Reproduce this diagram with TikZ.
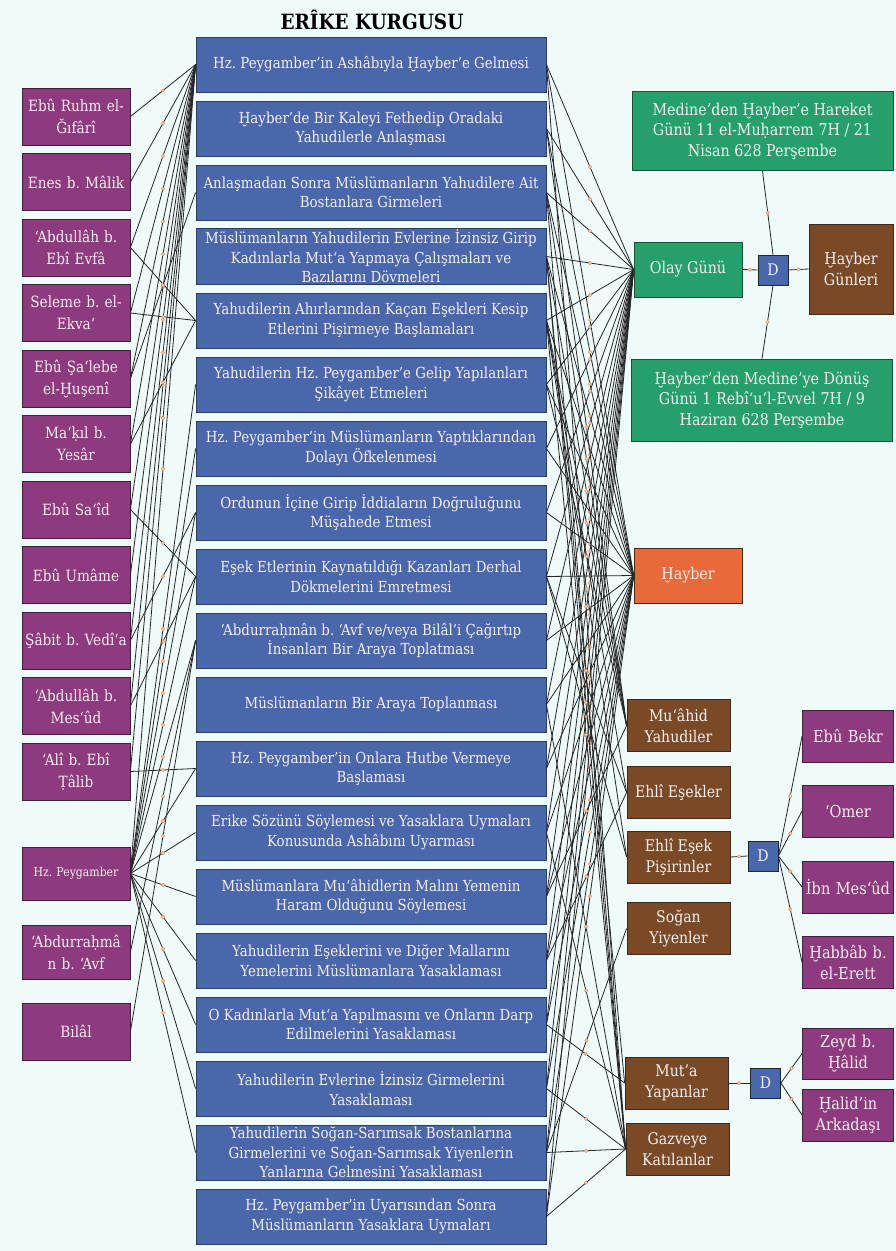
\documentclass[tikz,border=0pt]{standalone}
\usepackage{fontspec}
\setmainfont{DejaVu Serif}[FakeStretch=0.88]
\usetikzlibrary{positioning}
\definecolor{zemin}{HTML}{EFFAFB}
\definecolor{mavi}{HTML}{4B67AC}
\definecolor{mavicizgi}{HTML}{2E3D62}
\definecolor{mor}{HTML}{8E3A7F}
\definecolor{morcizgi}{HTML}{3E2338}
\definecolor{yesil}{HTML}{25A06B}
\definecolor{yesilcizgi}{HTML}{1E4E39}
\definecolor{kahve}{HTML}{7A4A26}
\definecolor{kahvecizgi}{HTML}{3A2A20}
\definecolor{turuncu}{HTML}{E8693A}
\definecolor{yazi}{HTML}{F5EEF0}
\definecolor{nokta}{HTML}{E0925C}

\tikzset{
  kutu/.style={line width=0.8pt, align=center, text=yazi, inner sep=1pt},
  eventbox/.style={kutu, draw=mavicizgi, fill=mavi, minimum width=350pt, minimum height=55pt, font=\fontsize{15.2}{19.5}\selectfont},
  personbox/.style={kutu, draw=morcizgi, fill=mor, minimum width=108pt, minimum height=57pt, text width=106pt, font=\fontsize{15.5}{22}\selectfont},
  greenbox/.style={kutu, draw=yesilcizgi, fill=yesil, font=\fontsize{16.2}{20.5}\selectfont},
  brownbox/.style={kutu, draw=kahvecizgi, fill=kahve, minimum width=103pt, minimum height=52pt, font=\fontsize{16}{21}\selectfont},
  sagkisi/.style={personbox, minimum width=90pt, text width=89pt, minimum height=52pt, font=\fontsize{16.5}{21}\selectfont},
  dbox/.style={kutu, draw=black!85, fill=mavi, minimum width=30pt, minimum height=30pt, font=\fontsize{16}{17}\selectfont},
  link/.style={draw=black!85, line width=0.8pt},
  mk/.style={circle, draw=nokta, fill=nokta!40, line width=0.5pt, inner sep=0pt, minimum size=3.4pt}
}

\begin{document}
\frenchspacing
\begin{tikzpicture}[x=1pt, y=-1pt]
\fill[zemin] (0,0) rectangle (896,1251);
\useasboundingbox (0,0) rectangle (896,1251);

\node[font=\fontsize{21}{24}\selectfont\bfseries] (baslik) at (372,20) {ERÎKE KURGUSU};

% olaylar
\foreach \t [count=\i] in {
  {Hz. Peygamber'in Ashâbıyla Ḫayber'e Gelmesi},
  {Ḫayber'de Bir Kaleyi Fethedip Oradaki\\Yahudilerle Anlaşması},
  {Anlaşmadan Sonra Müslümanların Yahudilere Ait\\Bostanlara Girmeleri},
  {Müslümanların Yahudilerin Evlerine İzinsiz Girip\\Kadınlarla Mut‘a Yapmaya Çalışmaları ve\\Bazılarını Dövmeleri},
  {Yahudilerin Ahırlarından Kaçan Eşekleri Kesip\\Etlerini Pişirmeye Başlamaları},
  {Yahudilerin Hz. Peygamber'e Gelip Yapılanları\\Şikâyet Etmeleri},
  {Hz. Peygamber'in Müslümanların Yaptıklarından\\Dolayı Öfkelenmesi},
  {Ordunun İçine Girip İddiaların Doğruluğunu\\Müşahede Etmesi},
  {Eşek Etlerinin Kaynatıldığı Kazanları Derhal\\Dökmelerini Emretmesi},
  {‘Abdurraḥmân b. ‘Avf ve/veya Bilâl'i Çağırtıp\\İnsanları Bir Araya Toplatması},
  {Müslümanların Bir Araya Toplanması},
  {Hz. Peygamber'in Onlara Hutbe Vermeye\\Başlaması},
  {Erike Sözünü Söylemesi ve Yasaklara Uymaları\\Konusunda Ashâbını Uyarması},
  {Müslümanlara Mu‘âhidlerin Malını Yemenin\\Haram Olduğunu Söylemesi},
  {Yahudilerin Eşeklerini ve Diğer Mallarını\\Yemelerini Müslümanlara Yasaklaması},
  {O Kadınlarla Mut‘a Yapılmasını ve Onların Darp\\Edilmelerini Yasaklaması},
  {Yahudilerin Evlerine İzinsiz Girmelerini\\Yasaklaması},
  {Yahudilerin Soğan-Sarımsak Bostanlarına\\Girmelerini ve Soğan-Sarımsak Yiyenlerin\\Yanlarına Gelmesini Yasaklaması},
  {Hz. Peygamber'in Uyarısından Sonra\\Müslümanların Yasaklara Uymaları}}
  \node[eventbox] (e\i) at (371,{64.5+64*(\i-1)}) {\t};

% raviler
\foreach \t [count=\i] in {
  {Ebû Ruhm el-\\Ğıfârî}, {Enes b. Mâlik}, {‘Abdullâh b.\\Ebî Evfâ}, {Seleme b. el-\\Ekva‘},
  {Ebû Şa‘lebe\\el-Ḫuşenî}, {Ma‘ḳıl b.\\Yesâr}, {Ebû Sa‘îd}, {Ebû Umâme},
  {Şâbit b. Vedî‘a}, {‘Abdullâh b.\\Mes‘ûd}, {‘Alî b. Ebî\\Ṭâlib}}
  \node[personbox] (n\i) at (76,{116.5+65.5*(\i-1)}) {\t};

\node[personbox, minimum height=53pt, font=\fontsize{12.4}{14}\selectfont] (pey) at (76,873.5) {Hz. Peygamber};
\node[personbox, minimum height=54pt] (abd) at (76,952) {‘Abdurraḥmâ\\n b. ‘Avf};
\node[personbox] (bil) at (76,1031.5) {Bilâl};

% sag taraf
\node[greenbox, minimum width=261pt, minimum height=79pt] (med) at (762.5,131) {Medine'den Ḫayber'e Hareket\\Günü 11 el-Muḥarrem 7H / 21\\Nisan 628 Perşembe};
\node[greenbox, minimum width=108pt, minimum height=55pt] (olay) at (688,269.5) {Olay Günü};
\node[dbox] (d1) at (773,270) {D};
\node[brownbox, minimum width=84pt, minimum height=90pt, font=\fontsize{16.2}{21}\selectfont] (hg) at (851,269) {Ḫayber\\Günleri};
\node[greenbox, minimum width=261pt, minimum height=82pt] (don) at (762,400) {Ḫayber'den Medine'ye Dönüş\\Günü 1 Rebî‘u'l-Evvel 7H / 9\\Haziran 628 Perşembe};
\node[kutu, draw=kahvecizgi, fill=turuncu, minimum width=108pt, minimum height=55pt, font=\fontsize{16.2}{20}\selectfont] (hay) at (688,575.5) {Ḫayber};

\node[brownbox] (mua) at (678.5,725.5) {Mu‘âhid\\Yahudiler};
\node[brownbox] (ees) at (678.5,792.5) {Ehlî Eşekler};
\node[brownbox] (eep) at (678.5,857) {Ehlî Eşek\\Pişirinler};
\node[brownbox] (soy) at (678.5,928.5) {Soğan\\Yiyenler};
\node[dbox] (d2) at (763,856) {D};
\node[sagkisi] (ebk) at (848,736) {Ebû Bekr};
\node[sagkisi] (omr) at (848,811) {‘Omer};
\node[sagkisi] (ibn) at (848,887) {İbn Mes‘ûd};
\node[sagkisi] (hab) at (848,962.5) {Ḫabbâb b.\\el-Erett};

\node[brownbox] (mut) at (676.5,1083) {Mut’a\\Yapanlar};
\node[brownbox] (gaz) at (677.5,1149) {Gazveye\\Katılanlar};
\node[dbox] (d3) at (765.5,1083) {D};
\node[sagkisi, minimum height=51pt] (zey) at (848,1053.5) {Zeyd b.\\Ḫâlid};
\node[sagkisi] (hal) at (848,1115) {Ḫalid'in\\Arkadaşı};

% sol baglantilar
\foreach \i in {1,...,11}
  \draw[link] (n\i.east) -- node[mk]{} (e1.west);
\foreach \i/\j in {3/5, 4/5, 5/3, 6/5, 7/9, 9/8, 10/9, 11/12}
  \draw[link] (n\i.east) -- node[mk]{} (e\j.west);
\foreach \j in {1,6,7,8,9,10,12,13,14,15,16,17,18}
  \draw[link] (pey.east) -- node[mk]{} (e\j.west);
\draw[link] (abd.east) -- node[mk]{} (e10.west);
\draw[link] (bil.east) -- node[mk]{} (e10.west);

% sag baglantilar
\foreach \i in {1,...,19} {
  \draw[link] (e\i.east) -- node[mk]{} (olay.west);
  \draw[link] (e\i.east) -- node[mk]{} (hay.west);
}
\foreach \i in {2,3,4,5,6,14}
  \draw[link] (e\i.east) -- node[mk]{} (mua.west);
\foreach \i in {5,9,15}
  \draw[link] (e\i.east) -- node[mk]{} (ees.west);
\foreach \i in {5,9}
  \draw[link] (e\i.east) -- node[mk]{} (eep.west);
\draw[link] (e18.east) -- node[mk]{} (soy.west);
\foreach \i in {4,16}
  \draw[link] (e\i.east) -- node[mk]{} (mut.west);
\foreach \i in {1,3,4,5,11,13,17,18,19}
  \draw[link] (e\i.east) -- node[mk]{} (gaz.west);

% D kutulari
\draw[link] (olay.east) -- node[mk]{} (d1.west);
\draw[link] (d1.east) -- node[mk]{} (hg.west);
\draw[link] (med.south) -- node[mk]{} (d1.north);
\draw[link] (don.north) -- node[mk]{} (d1.south);
\draw[link] (eep.east) -- node[mk]{} (d2.west);
\foreach \k in {ebk,omr,ibn,hab}
  \draw[link] (d2.east) -- node[mk]{} (\k.west);
\draw[link] (mut.east) -- node[mk]{} (d3.west);
\foreach \k in {zey,hal}
  \draw[link] (d3.east) -- node[mk]{} (\k.west);
\end{tikzpicture}
\end{document}
